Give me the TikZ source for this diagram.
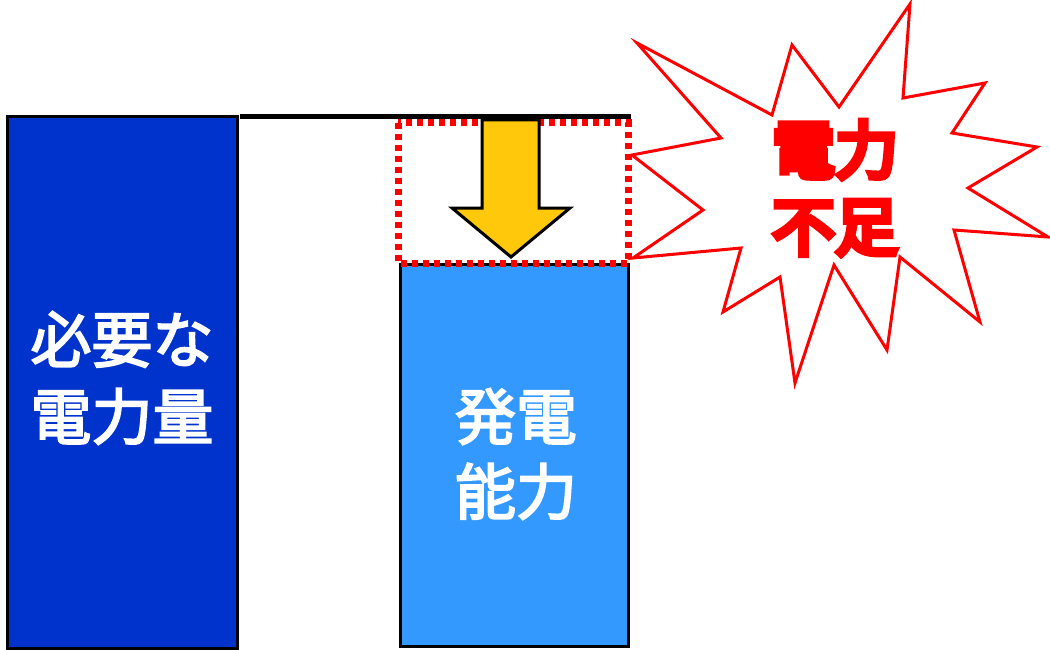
\documentclass[tikz,border=0pt]{standalone}
\usepackage{fontspec}
\newfontfamily\jpb[FakeBold=3]{Noto Sans CJK JP}
\newfontfamily\jpheavy[FakeBold=9]{Noto Sans CJK JP}
\definecolor{darkblue}{RGB}{0,51,204}
\definecolor{lightblue}{RGB}{51,153,255}
\definecolor{arrowyellow}{RGB}{255,200,10}
\definecolor{alertred}{RGB}{255,0,0}
\begin{document}
\begin{tikzpicture}[x=1pt,y=-1pt,
  bar/.style={draw=black,line width=3pt,inner sep=0pt},
  bartext/.style={text=white,align=center},
  gapbox/.style={draw=alertred,line width=7pt,dash pattern=on 6pt off 5pt},
  bigarrow/.style={draw=black,line width=3pt,fill=arrowyellow,line join=miter},
  burst/.style={draw=alertred,line width=3pt,fill=white,line join=miter},
  alert/.style={text=alertred,align=center,font=\jpheavy\fontsize{63}{77}\selectfont}]
\useasboundingbox (0,0) rectangle (1050,650);
% bars
\node[bar,fill=darkblue,minimum width=230pt,minimum height=531pt] (need) at (122,382.5) {};
\node[bartext,font=\jpb\fontsize{61}{77}\selectfont] (needtxt) at (122,378) {必要な\\電力量};
\node[bar,fill=lightblue,minimum width=228pt,minimum height=382pt] (gen) at (514,455) {};
\node[bartext,font=\jpb\fontsize{61}{75}\selectfont] (gentxt) at (516,454) {発電\\能力};
% top level line
\coordinate (lvlA) at (240,117);
\coordinate (lvlB) at (631,117);
\draw[line width=5pt] (lvlA) -- (lvlB);
% shortage box
\draw[gapbox] (398,123) rectangle (628,263);
% arrow
\draw[bigarrow] (482,120) -- (539,120) -- (539,208) -- (570,208) -- (511,257) -- (452,208) -- (482,208) -- cycle;
% starburst
\draw[burst] (637,43) -- (772,115) -- (792,45) -- (839,107) -- (910,4) -- (903,98)
  -- (985,83) -- (952,133) -- (1037,147) -- (968,188) -- (1048,237) -- (954,230)
  -- (980,322) -- (900,257) -- (887,350) -- (834,265) -- (795,383) -- (780,277)
  -- (723,312) -- (741,248) -- (633,258) -- (703,210) -- (632,155) -- (721,138) -- cycle;
\node[alert] (short) at (835,188) {電力\\不足};
\end{tikzpicture}
\end{document}
